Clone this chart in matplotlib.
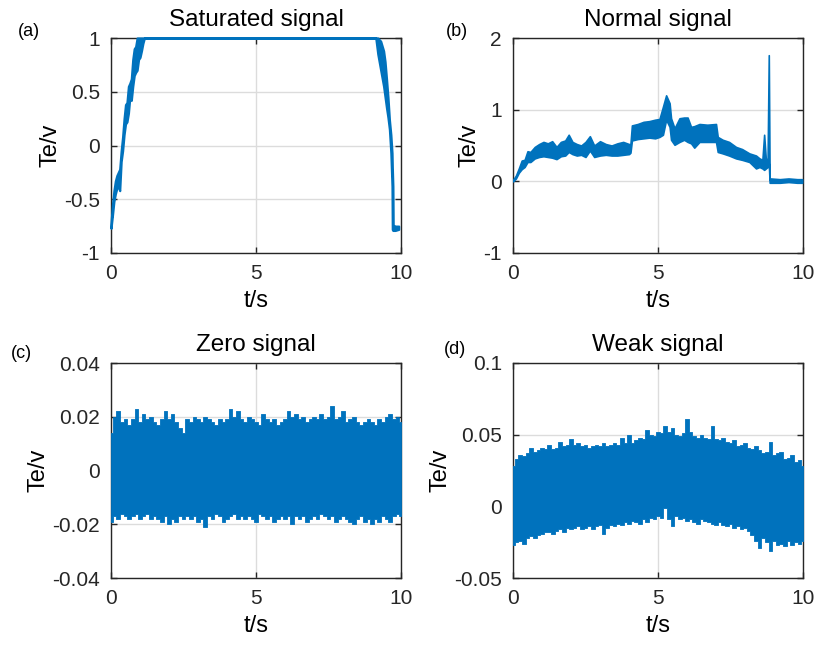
import numpy as np
import matplotlib
matplotlib.use('Agg')
import matplotlib.pyplot as plt
from matplotlib.ticker import FuncFormatter

plt.rcParams['font.family'] = ['Liberation Sans', 'DejaVu Sans']

BLUE = '#0072BD'

# (a) saturated signal: band edges around the rise and the fall, flat at 1 in between
sat_t = [0.0, 0.05, 0.1, 0.15, 0.2, 0.25, 0.3, 0.35, 0.4, 0.45, 0.5, 0.55,
         0.6, 0.65, 0.7, 0.75, 0.8, 0.85, 0.9, 0.95, 1.0, 1.05, 1.1, 1.15,
         9.13, 9.2, 9.3, 9.4, 9.45, 9.5, 9.55, 9.6, 9.65, 9.69, 9.7, 9.72,
         9.73, 9.8, 9.92]
sat_hi = [-0.72, -0.55, -0.42, -0.33, -0.28, -0.25, -0.22, -0.05, 0.08, 0.25,
          0.38, 0.40, 0.55, 0.58, 0.62, 0.80, 0.90, 0.92, 1.0, 1.0, 1.0, 1.0,
          1.0, 1.0,
          1.0, 1.0, 0.97, 0.88, 0.78, 0.62, 0.45, 0.24, 0.10, -0.07, -0.20,
          -0.38, -0.74, -0.75, -0.75]
sat_lo = [-0.77, -0.65, -0.52, -0.45, -0.40, -0.38, -0.42, -0.15, -0.05, 0.10,
          0.20, 0.22, 0.30, 0.45, 0.42, 0.55, 0.65, 0.68, 0.70, 0.80, 0.82,
          0.88, 0.95, 1.0,
          1.0, 0.85, 0.70, 0.55, 0.45, 0.35, 0.26, 0.15, -0.07, -0.38, -0.78,
          -0.79, -0.79, -0.79, -0.78]

# (b) normal signal
norm_t = [0.0, 0.1, 0.2, 0.3, 0.4, 0.5, 0.6, 0.75, 0.9, 1.05,
          1.2, 1.35, 1.5, 1.65, 1.8, 1.92, 2.05, 2.2, 2.35, 2.5,
          2.65, 2.8, 3.0, 3.2, 3.4, 3.6, 3.8, 4.0, 4.05, 4.1,
          4.3, 4.5, 4.7, 4.9, 5.05, 5.17, 5.28, 5.4, 5.45, 5.57,
          5.74, 5.9, 6.02, 6.14, 6.25, 6.43, 6.7, 7.0, 7.06, 7.23,
          7.45, 7.69, 7.9, 8.15, 8.38, 8.5, 8.6, 8.66, 8.72, 8.78,
          8.82, 8.85, 8.88, 9.2, 9.5, 9.8, 9.97]
norm_hi = [0.02, 0.08, 0.18, 0.29, 0.30, 0.42, 0.41, 0.48, 0.52, 0.55,
           0.53, 0.56, 0.48, 0.55, 0.57, 0.65, 0.55, 0.52, 0.50, 0.55,
           0.63, 0.50, 0.56, 0.52, 0.50, 0.53, 0.55, 0.52, 0.52, 0.78,
           0.80, 0.83, 0.84, 0.86, 0.87, 1.04, 1.20, 1.09, 0.88, 0.74,
           0.88, 0.89, 0.89, 0.76, 0.77, 0.80, 0.79, 0.80, 0.62, 0.58,
           0.55, 0.48, 0.45, 0.39, 0.36, 0.32, 0.30, 0.65, 0.30, 0.32,
           1.76, 0.03, 0.04, 0.03, 0.04, 0.03, 0.03]
norm_lo = [0.00, 0.04, 0.12, 0.17, 0.20, 0.27, 0.27, 0.32, 0.34, 0.35,
           0.34, 0.33, 0.31, 0.35, 0.36, 0.41, 0.38, 0.36, 0.37, 0.34,
           0.43, 0.34, 0.36, 0.37, 0.36, 0.36, 0.37, 0.38, 0.40, 0.57,
           0.59, 0.60, 0.61, 0.60, 0.62, 0.65, 0.86, 0.76, 0.58, 0.51,
           0.55, 0.58, 0.55, 0.53, 0.47, 0.55, 0.55, 0.55, 0.41, 0.39,
           0.36, 0.32, 0.30, 0.27, 0.18, 0.20, 0.18, 0.16, 0.18, 0.20,
           0.25, -0.02, -0.02, -0.02, -0.01, -0.02, -0.02]

# (c) zero signal, peaks every 0.125 s (x1e-3)
zero_hi = [14, 20, 22, 18, 19, 17, 19, 23, 18, 21,
           19, 20, 18, 17, 19, 22, 19, 21, 18, 16,
           14, 19, 18, 20, 19, 18, 20, 19, 18, 17,
           19, 18, 19, 23, 20, 22, 19, 18, 20, 19,
           18, 17, 21, 19, 18, 19, 17, 18, 19, 22,
           20, 21, 19, 20, 18, 19, 20, 19, 21, 19,
           20, 24, 19, 20, 22, 18, 19, 20, 18, 17,
           18, 19, 18, 17, 19, 18, 20, 21, 19, 20,
           18]
zero_lo = [-19, -17, -18, -16, -17, -18, -17, -16, -18, -17,
           -16, -18, -17, -18, -19, -17, -20, -18, -19, -17,
           -18, -17, -18, -17, -19, -18, -21, -17, -18, -16,
           -17, -19, -18, -17, -16, -18, -17, -18, -17, -18,
           -19, -16, -17, -18, -17, -19, -18, -17, -18, -17,
           -20, -17, -18, -17, -19, -18, -17, -18, -16, -17,
           -18, -17, -19, -18, -17, -18, -19, -20, -18, -17,
           -19, -18, -20, -18, -19, -17, -18, -19, -17, -16,
           -17]

# (d) weak signal (x1e-3)
weak_hi = [28, 33, 36, 35, 37, 41, 38, 39, 41, 40,
           43, 40, 41, 45, 42, 43, 47, 43, 44, 42,
           43, 41, 42, 43, 42, 44, 42, 43, 44, 43,
           48, 44, 50, 44, 46, 48, 47, 53, 50, 49,
           52, 51, 56, 52, 55, 50, 49, 51, 61, 52,
           49, 48, 50, 48, 47, 56, 47, 46, 48, 45,
           44, 46, 42, 43, 44, 41, 40, 42, 39, 37,
           38, 45, 36, 37, 38, 33, 34, 36, 31, 32,
           28]
weak_lo = [-27, -25, -24, -26, -22, -21, -22, -20, -19, -18,
           -18, -19, -17, -16, -18, -15, -16, -15, -14, -16,
           -15, -14, -16, -14, -13, -19, -15, -13, -14, -12,
           -13, -11, -12, -10, -11, -12, -9, -11, -8, -9,
           -7, -8, -1, -9, -14, -7, -9, -8, -10, -9,
           -11, -12, -9, -10, -11, -12, -13, -11, -13, -14,
           -12, -15, -14, -16, -15, -17, -20, -24, -29, -22,
           -25, -31, -24, -27, -26, -28, -24, -27, -25, -26,
           -24]

titles = ['Saturated signal', 'Normal signal', 'Zero signal', 'Weak signal']
tags = ['(a)', '(b)', '(c)', '(d)']
ylims = [(-1, 1), (-1, 2), (-0.04, 0.04), (-0.05, 0.1)]
ysteps = [0.5, 1, 0.02, 0.05]

fig = plt.figure(figsize=(8.19, 6.5), dpi=100)
W, H = 819.0, 650.0
boxes = [(111, 38), (513, 38), (111, 363), (513, 363)]
tag_xy = [(29, 32), (457, 32), (21, 353), (455, 350)]

axes = []
for (x0, y0) in boxes:
    axes.append(fig.add_axes([x0 / W, 1 - (y0 + 215) / H, 290 / W, 215 / H]))

ax = axes[0]
ax.fill_between(sat_t, sat_lo, sat_hi, color=BLUE, lw=1.6, clip_on=False, zorder=3)

ax = axes[1]
ax.fill_between(norm_t, norm_lo, norm_hi, color=BLUE, lw=1.2, zorder=3)

ax = axes[2]
t = np.linspace(0, 10, len(zero_hi))
ax.fill_between(t, np.array(zero_lo) * 1e-3, np.array(zero_hi) * 1e-3,
                step='mid', color=BLUE, lw=0.6, zorder=3)

ax = axes[3]
t = np.linspace(0, 10, len(weak_hi))
ax.fill_between(t, np.array(weak_lo) * 1e-3, np.array(weak_hi) * 1e-3,
                step='mid', color=BLUE, lw=0.6, zorder=3)

fmt = FuncFormatter(lambda v, p: '{:g}'.format(round(v, 6)))
for i, ax in enumerate(axes):
    lo, hi = ylims[i]
    ax.set_xlim(0, 10)
    ax.set_ylim(lo, hi)
    ax.set_xticks([0, 5, 10])
    ax.set_yticks(np.arange(lo, hi + ysteps[i] / 2, ysteps[i]))
    ax.yaxis.set_major_formatter(fmt)
    ax.grid(True, color='#dcdcdc', lw=1.0, zorder=0)
    ax.set_axisbelow(True)
    ax.tick_params(direction='in', length=4, width=1, top=True, right=True,
                   labelsize=15, colors='#262626', pad=8)
    for s in ax.spines.values():
        s.set_color('#262626')
        s.set_linewidth(1.0)
        s.set_zorder(2)
    ax.set_title(titles[i], fontsize=17.5, pad=9)
    ax.set_xlabel('t/s', fontsize=17, labelpad=5)
    ax.set_ylabel('Te/v', fontsize=17, labelpad=2)
    fig.text(tag_xy[i][0] / W, 1 - tag_xy[i][1] / H, tags[i], fontsize=13,
             ha='center', va='center')

fig.savefig('out.png', dpi=100)
